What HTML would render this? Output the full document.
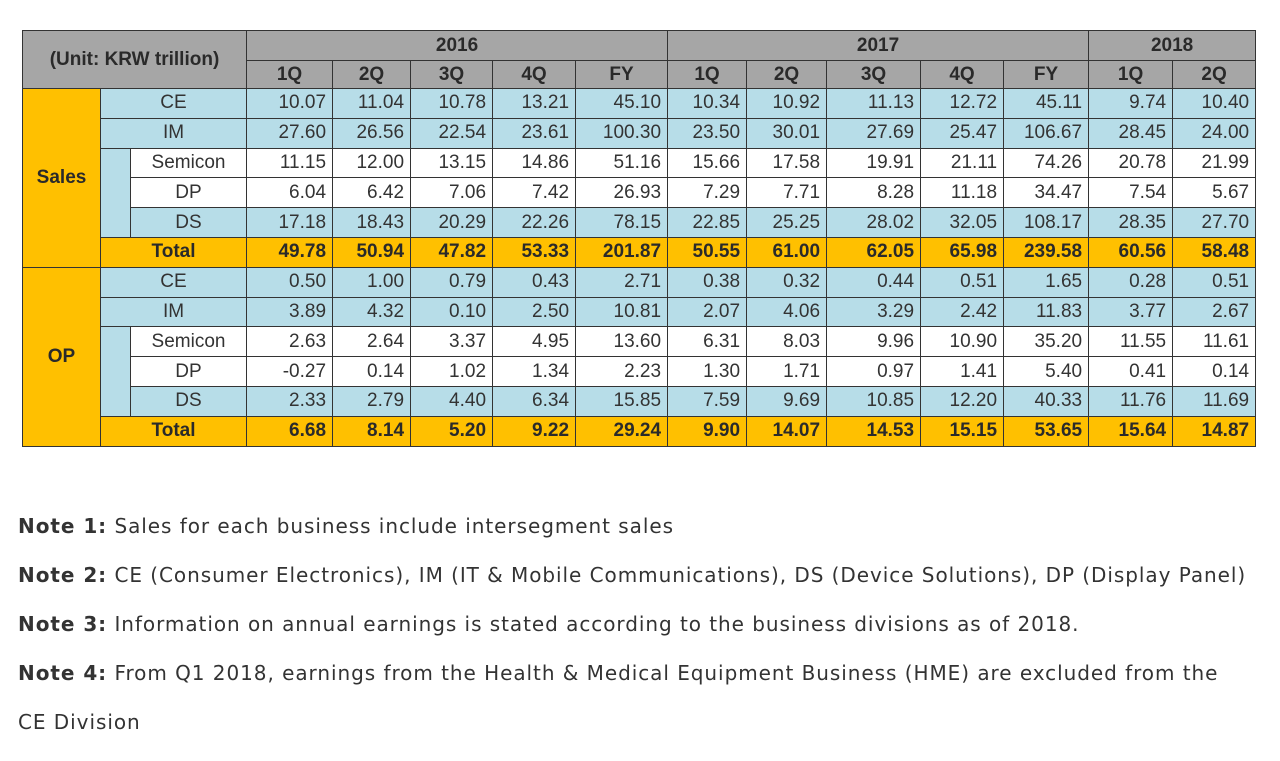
<!DOCTYPE html>
<html><head><meta charset="utf-8"><style>
body{margin:0;width:1280px;height:761px;background:#fff;overflow:hidden;font-family:"Liberation Sans",Arial,sans-serif}
table{position:absolute;left:22px;top:30px;border-collapse:collapse;table-layout:fixed;width:1233px}
td{border:1px solid #333;padding:0 4px;font-size:19px;color:#333;height:29.8px;box-sizing:border-box;white-space:nowrap;overflow:hidden}
.h{background:#a6a6a6;text-align:center;font-weight:bold;color:#2a2a2a}
.b{background:#b7dde8}
.w{background:#fff}
.o{background:#ffc000;font-weight:bold;color:#2a2a2a}
.n{text-align:right;padding-right:6px}
.c{text-align:center}
.notes{position:absolute;left:18px;top:502px;font-family:"DejaVu Sans","Liberation Sans",sans-serif;font-size:20px;color:#333;letter-spacing:0.95px;line-height:49px}
.notes b{font-weight:bold}
</style></head><body>
<table>
<colgroup><col style="width:78px"><col style="width:30px"><col style="width:116px">
<col style="width:86px"><col style="width:78px"><col style="width:82px"><col style="width:83px"><col style="width:92px">
<col style="width:79px"><col style="width:80px"><col style="width:94px"><col style="width:83px"><col style="width:85px">
<col style="width:84px"><col style="width:83px"></colgroup>
<tbody id="tb">
<tr><td class="h" colspan="3" rowspan="2">(Unit: KRW trillion)</td>
<td class="h" colspan="5" style="height:30px">2016</td>
<td class="h" colspan="5" style="height:30px">2017</td>
<td class="h" colspan="2" style="height:30px">2018</td></tr>
<tr id="qrow"></tr>
</tbody></table>
<div class="notes">
<div><b>Note 1:</b> Sales for each business include intersegment sales</div>
<div><b>Note 2:</b> CE (Consumer Electronics), IM (IT &amp; Mobile Communications), DS (Device Solutions), DP (Display Panel)</div>
<div><b>Note 3:</b> Information on annual earnings is stated according to the business divisions as of 2018.</div>
<div><b>Note 4:</b> From Q1 2018, earnings from the Health &amp; Medical Equipment Business (HME) are excluded from the</div>
<div>CE Division</div>
</div>
<script>
const quarters=["1Q","2Q","3Q","4Q","FY","1Q","2Q","3Q","4Q","FY","1Q","2Q"];
const rowNames=["CE","IM","Semicon","DP","DS","Total"];
const salesVals=[
["10.07","11.04","10.78","13.21","45.10","10.34","10.92","11.13","12.72","45.11","9.74","10.40"],
["27.60","26.56","22.54","23.61","100.30","23.50","30.01","27.69","25.47","106.67","28.45","24.00"],
["11.15","12.00","13.15","14.86","51.16","15.66","17.58","19.91","21.11","74.26","20.78","21.99"],
["6.04","6.42","7.06","7.42","26.93","7.29","7.71","8.28","11.18","34.47","7.54","5.67"],
["17.18","18.43","20.29","22.26","78.15","22.85","25.25","28.02","32.05","108.17","28.35","27.70"],
["49.78","50.94","47.82","53.33","201.87","50.55","61.00","62.05","65.98","239.58","60.56","58.48"]];
const opVals=[
["0.50","1.00","0.79","0.43","2.71","0.38","0.32","0.44","0.51","1.65","0.28","0.51"],
["3.89","4.32","0.10","2.50","10.81","2.07","4.06","3.29","2.42","11.83","3.77","2.67"],
["2.63","2.64","3.37","4.95","13.60","6.31","8.03","9.96","10.90","35.20","11.55","11.61"],
["-0.27","0.14","1.02","1.34","2.23","1.30","1.71","0.97","1.41","5.40","0.41","0.14"],
["2.33","2.79","4.40","6.34","15.85","7.59","9.69","10.85","12.20","40.33","11.76","11.69"],
["6.68","8.14","5.20","9.22","29.24","9.90","14.07","14.53","15.15","53.65","15.64","14.87"]];
const qrow=document.getElementById('qrow');
quarters.forEach(q=>{const td=document.createElement('td');td.className='h';td.textContent=q;td.style.height='28px';


qrow.appendChild(td);});
const tb=document.getElementById('tb');
function block(label,vals){
 rowNames.forEach((nm,i)=>{
  const tr=document.createElement('tr');
  let html='';
  if(i===0) html+='<td class="o c" rowspan="6">'+label+'</td>';
  const cls=(i===2||i===3)?'w':(i===5?'o':'b');
  if(i<2||i===5) html+='<td class="'+cls+' c" colspan="2">'+nm+'</td>';
  else {
   if(i===2) html+='<td class="b" rowspan="3" style="border-bottom:1px solid #333"></td>';
   html+='<td class="'+cls+' c" style="'+(i===4?'border-left-color:#b7dde8':'')+'">'+nm+'</td>';
  }
  vals[i].forEach(v=>{html+='<td class="'+cls+' n">'+v+'</td>';});
  tr.innerHTML=html;
  
  
  tb.appendChild(tr);
 });
}
block('Sales',salesVals);
block('OP',opVals);
</script>
</body></html>
